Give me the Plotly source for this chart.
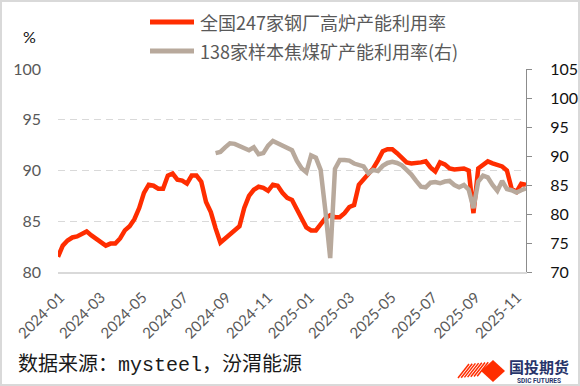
import plotly.graph_objects as go
import pandas as pd

# ---------------- data ----------------
dates = pd.date_range("2024-01-05", periods=99, freq="7D")

blast_furnace_util = [
    81.5, 82.6, 83.1, 83.4, 83.5, 83.7, 84.0, 83.6, 83.3, 83.0,
    82.6, 82.8, 82.8, 83.3, 84.1, 84.5, 85.2, 86.3, 87.8, 88.6,
    88.5, 88.2, 88.2, 89.5, 89.7, 89.1, 89.0, 88.7, 89.5, 89.5,
    88.9, 86.9, 85.9, 84.3, 82.9, 83.3, 83.7, 84.1, 84.5, 86.3,
    87.5, 88.1, 88.4, 88.3, 88.0, 88.6, 88.5, 87.8, 87.3, 87.1,
    86.1, 85.3, 84.4, 84.1, 84.1, 84.7, 85.3, 85.6, 85.4, 85.4,
    85.8, 86.4, 86.6, 88.6, 89.1, 89.6, 90.2, 91.0, 91.9, 92.1,
    92.1, 91.7, 91.2, 90.8, 90.7, 90.7, 90.8, 90.9, 90.3, 89.9,
    90.8, 90.6, 90.2, 90.1, 90.2, 90.2, 90.0, 85.8, 90.2, 90.5,
    90.9, 90.7, 90.6, 90.4, 90.0, 88.2, 87.9, 88.7, 88.6,
]

coal_mine_util = [None] * 33 + [
    90.5, 90.7, 91.5, 92.2, 92.1, 91.8, 91.5, 91.0, 91.5, 90.3,
    90.5, 91.8, 92.6, 92.2, 91.8, 91.6, 91.0, 89.2, 87.9, 87.2,
    90.1, 89.7, 87.6, 80.5, 72.4, 87.8, 89.3, 89.3, 89.2, 88.7,
    88.5, 88.2, 87.0, 87.6, 87.4, 88.3, 88.8, 89.0, 88.8, 88.4,
    87.6, 86.8, 85.7, 84.7, 84.6, 85.4, 85.5, 85.3, 85.6, 85.7,
    85.0, 84.6, 85.0, 84.2, 81.0, 85.6, 86.6, 86.3, 85.0, 84.0,
    85.7, 84.3, 84.1, 83.7, 84.1, 84.4,
]

tick_labels = ["2024-01", "2024-03", "2024-05", "2024-07", "2024-09", "2024-11",
               "2025-01", "2025-03", "2025-05", "2025-07", "2025-09", "2025-11"]
tick_dates = [t + "-08" for t in tick_labels]

left_ticks = [80, 85, 90, 95, 100]
right_ticks = [70, 75, 80, 85, 90, 95, 100, 105]

name_red = "全国247家钢厂高炉产能利用率"
name_gray = "138家样本焦煤矿产能利用率(右)"

RED = "#FF2D00"
GRAY = "#B8A99C"

# ---------------- layout geometry (pixels) ----------------
W, H = 580, 386
L, R, T, B = 58, 526, 69, 272


def px(x):
    return (x - L) / (R - L)


def py(y):
    return (B - y) / (B - T)


fig = go.Figure()
fig.add_trace(go.Scatter(x=dates, y=blast_furnace_util, name=name_red, mode="lines",
                         line=dict(color=RED, width=4.5), yaxis="y"))
fig.add_trace(go.Scatter(x=dates, y=coal_mine_util, name=name_gray, mode="lines",
                         line=dict(color=GRAY, width=4.5), yaxis="y2",
                         connectgaps=False))

num_font = "Lato, Noto Sans CJK SC, sans-serif"
cjk_font = "Noto Sans CJK SC, sans-serif"

fig.update_layout(
    width=W, height=H,
    margin=dict(l=L, r=W - R, t=T, b=H - B, pad=0, autoexpand=False),
    paper_bgcolor="white", plot_bgcolor="white",
    showlegend=False,
    xaxis=dict(
        type="date", range=[dates[0], dates[-1]], automargin=False,
        tickmode="array", tickvals=tick_dates, ticktext=tick_labels,
        tickangle=-45, tickfont=dict(family=num_font, size=15, color="#595959"),
        showgrid=False, showline=True, linecolor="#D9D9D9", linewidth=1.5,
        ticks="", zeroline=False, ticklabelstandoff=9,
    ),
    yaxis=dict(
        range=[80, 100], tickmode="array", tickvals=left_ticks, automargin=False,
        tickfont=dict(family=num_font, size=16, color="#595959"),
        showgrid=True, gridcolor="#D9D9D9", gridwidth=1.3, griddash="7px,5px",
        zeroline=False, showline=False, ticks="", ticklabelstandoff=16,
    ),
    yaxis2=dict(
        range=[70, 105], tickmode="array", tickvals=right_ticks, automargin=False,
        overlaying="y", side="right",
        tickfont=dict(family=num_font, size=16, color="#111111"),
        showgrid=False, zeroline=False, showline=True, linecolor="#8C8C8C",
        linewidth=1, ticks="outside", ticklen=5, tickcolor="#8C8C8C",
        ticklabelstandoff=15,
    ),
)

shapes = []
annotations = []

# outer border
shapes.append(dict(type="rect", xref="paper", yref="paper",
                   x0=px(1), x1=px(W - 1), y0=py(H - 1), y1=py(1),
                   line=dict(color="#D9D9D9", width=2), fillcolor="rgba(0,0,0,0)",
                   layer="below"))

# legend
for yy, col, txt in [(22, RED, name_red), (51, GRAY, name_gray)]:
    shapes.append(dict(type="line", xref="paper", yref="paper",
                       x0=px(150), x1=px(194), y0=py(yy), y1=py(yy),
                       line=dict(color=col, width=5)))
    annotations.append(dict(xref="paper", yref="paper", x=px(198), y=py(yy),
                            xanchor="left", yanchor="middle", showarrow=False,
                            text=txt, font=dict(family=cjk_font, size=18, color="#595959")))

# % unit
annotations.append(dict(xref="paper", yref="paper", x=px(29), y=py(37),
                        xanchor="center", yanchor="middle", showarrow=False,
                        text="%", font=dict(family=num_font, size=16, color="#111111")))

# source
annotations.append(dict(xref="paper", yref="paper", x=px(16), y=py(365),
                        xanchor="left", yanchor="middle", showarrow=False,
                        text="数据来源：mysteel，汾渭能源",
                        font=dict(family="Liberation Mono, Noto Sans CJK SC, monospace",
                                  size=20, color="#1A1A1A")))

# logo: striped diamond + solid diamond
for k in range(7):
    x0 = 458 + 3.2 * k
    shapes.append(dict(type="line", xref="paper", yref="paper",
                       x0=px(x0), y0=py(378 - 0.3 * k), x1=px(x0 + 11), y1=py(364 - 0.3 * k),
                       line=dict(color=RED, width=1.5)))
shapes.append(dict(type="path", xref="paper", yref="paper",
                   path="M {a},{b} L {c},{d} L {e},{b} L {c},{f} Z".format(
                       a=px(481), b=py(371), c=px(493), d=py(360), e=px(505), f=py(382)),
                   line=dict(width=0), fillcolor=RED))
annotations.append(dict(xref="paper", yref="paper", x=px(507), y=py(366),
                        xanchor="left", yanchor="middle", showarrow=False,
                        text="<b>国投期货</b>",
                        font=dict(family=cjk_font, size=15, color="#27356B")))
annotations.append(dict(xref="paper", yref="paper", x=px(539), y=py(381),
                        xanchor="center", yanchor="middle", showarrow=False,
                        text="<b>SDIC FUTURES</b>",
                        font=dict(family="Roboto, sans-serif", size=6.5, color="#27356B")))

fig.update_layout(shapes=shapes, annotations=annotations)
fig.write_html("out.html",
               config={"displayModeBar": False},
               post_script="document.body.style.margin='0';document.body.style.overflow='hidden';")
